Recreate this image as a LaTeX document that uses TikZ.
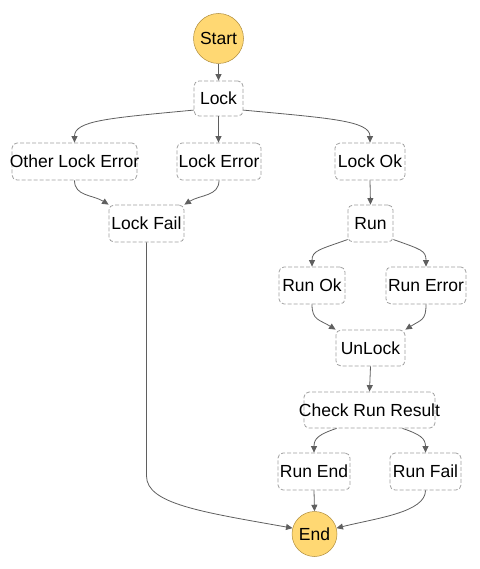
\documentclass[tikz,border=0pt]{standalone}
\usepackage{fontspec}
\setmainfont{Liberation Sans}
\usetikzlibrary{arrows.meta,calc}
\definecolor{termfill}{RGB}{255,216,115}
\definecolor{termdraw}{RGB}{175,140,60}
\definecolor{boxdraw}{RGB}{160,160,160}
\definecolor{linkcol}{RGB}{95,95,95}
\tikzset{
  statebox/.style={draw=boxdraw, dashed, dash pattern=on 4pt off 2pt, rounded corners=5pt, line width=0.8pt,
    inner sep=0pt, font=\fontsize{17.5}{19}\selectfont},
  term/.style={circle, draw=termdraw, fill=termfill, line width=0.5pt, inner sep=0pt,
    font=\fontsize{17.5}{19}\selectfont},
  link/.style={draw=linkcol, line width=0.8pt, -{Triangle[length=6.5pt,width=6pt]}}
}
\newcommand{\bx}[1]{\makebox[0pt]{#1}}
\begin{document}
\begin{tikzpicture}[x=1pt,y=-1pt]
\useasboundingbox (0,0) rectangle (479,569);
\node[term, minimum size=50pt] (start) at (218.5,38.5) {Start};
\node[statebox, minimum width=49pt, minimum height=35pt] (lock) at (218.5,98.5) {\bx{Lock}};
\node[statebox, minimum width=125pt, minimum height=37pt] (olderr) at (74.5,161.5) {\bx{Other Lock Error}};
\node[statebox, minimum width=84pt, minimum height=37pt] (lockerr) at (219,161.5) {\bx{Lock Error}};
\node[statebox, minimum width=70pt, minimum height=37pt] (lockok) at (370,161.5) {\bx{Lock Ok}};
\node[statebox, minimum width=75pt, minimum height=37pt] (lockfail) at (146.5,223.5) {\bx{Lock Fail}};
\node[statebox, minimum width=45pt, minimum height=37pt] (run) at (370.5,223.5) {\bx{Run}};
\node[statebox, minimum width=66pt, minimum height=37pt] (runok) at (312,285.5) {\bx{Run Ok}};
\node[statebox, minimum width=80pt, minimum height=37pt] (runerr) at (426,285.5) {\bx{Run Error}};
\node[statebox, minimum width=69pt, minimum height=36pt] (unlock) at (370.5,348) {\bx{UnLock}};
\node[statebox, minimum width=131pt, minimum height=36pt] (check) at (369.5,410) {\bx{Check Run Result}};
\node[statebox, minimum width=72pt, minimum height=37pt] (runend) at (314,471.5) {\bx{Run End}};
\node[statebox, minimum width=71pt, minimum height=37pt] (runfail) at (425.5,471.5) {\bx{Run Fail}};
\node[term, minimum size=45pt] (endn) at (314.5,534) {End};

\draw[link] (start.south) -- (lock.north);
\draw[link] (lock.205) .. controls +(-85,8) and +(0,-22) .. (olderr.north);
\draw[link] (lock.south) -- (lockerr.north -| lock.south);
\draw[link] (lock.335) .. controls +(85,8) and +(0,-22) .. (lockok.north);
\draw[link] (olderr.south) .. controls +(0,16) and +(-16,-10) .. (lockfail.north west);
\draw[link] (lockerr.south) .. controls +(0,16) and +(16,-10) .. (lockfail.north east);
\draw[link] (lockok.south) -- (run.north);
\draw[link] (run.215) .. controls +(-28,10) and +(0,-16) .. (runok.north);
\draw[link] (run.325) .. controls +(28,10) and +(0,-16) .. (runerr.north);
\draw[link] (runok.south) .. controls +(0,16) and +(-16,-10) .. (unlock.north west);
\draw[link] (runerr.south) .. controls +(0,16) and +(16,-10) .. (unlock.north east);
\draw[link] (unlock.south) -- (check.north);
\coordinate (chkL) at ($(check.south)!0.5!(check.south west)$);
\coordinate (chkR) at ($(check.south)!0.5!(check.south east)$);
\draw[link] (chkL) .. controls +(-18,6) and +(0,-14) .. (runend.north);
\draw[link] (chkR) .. controls +(18,6) and +(0,-14) .. (runfail.north);
\draw[link] (runend.south) -- (endn.north);
\draw[link] (runfail.south) .. controls +(0,22) and +(40,-10) .. (endn.15);
\coordinate (lfbend) at (lockfail.south |- 0,476);
\draw[link] (lockfail.south) -- (lfbend) .. controls +(0,28) and +(-90,-16) .. (endn.165);
\end{tikzpicture}
\end{document}
